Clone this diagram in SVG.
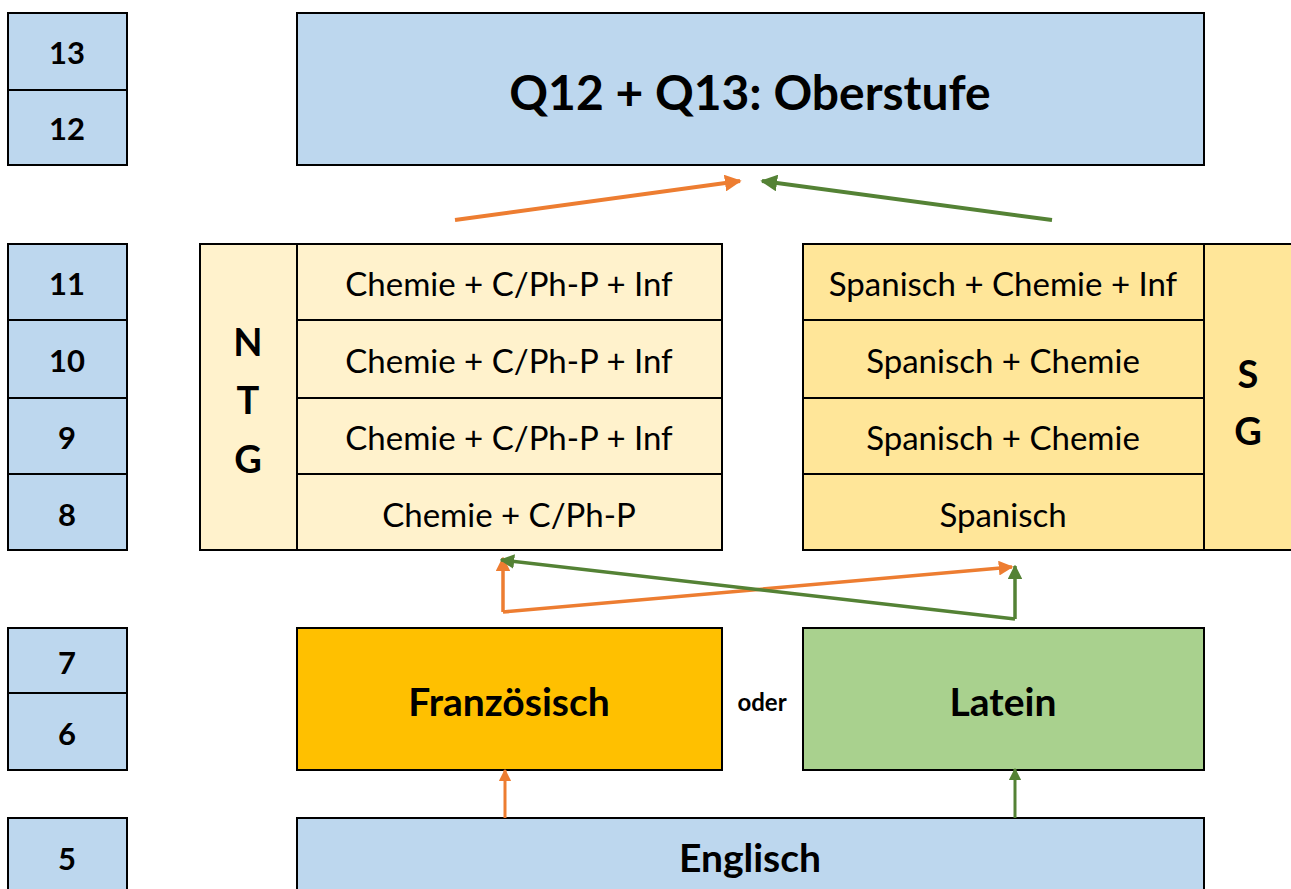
<svg xmlns="http://www.w3.org/2000/svg" width="1291" height="889" viewBox="0 0 1291 889">
  <defs>
    <style>
      .box { stroke: #000; stroke-width: 2; }
      .blue { fill: #BDD7EE; }
      .ntg { fill: #FFF2CC; }
      .sg { fill: #FFE699; }
      .fr { fill: #FFC000; }
      .la { fill: #A9D18E; }
      text { font-family: "Lato", "Open Sans", sans-serif; fill: #000; text-anchor: middle; dominant-baseline: central; }
      .num { font-size: 31px; font-weight: bold; }
      .big { font-size: 48px; font-weight: bold; }
      .mid { font-size: 39px; font-weight: bold; }
      .row { font-size: 33px; }
      .lbl { font-size: 38px; font-weight: bold; }
      .orange { stroke: #ED7D31; fill: none; }
      .green { stroke: #548235; fill: none; }
    </style>
    <marker id="ho" viewBox="0 0 10 10" refX="9" refY="5" markerWidth="4.2" markerHeight="4.2" markerUnits="strokeWidth" orient="auto">
      <path d="M0,0 L10,5 L0,10 Z" fill="#ED7D31"/>
    </marker>
    <marker id="hg" viewBox="0 0 10 10" refX="9" refY="5" markerWidth="4.2" markerHeight="4.2" markerUnits="strokeWidth" orient="auto">
      <path d="M0,0 L10,5 L0,10 Z" fill="#548235"/>
    </marker>
  </defs>

  <!-- grade column -->
  <g id="grades">
    <rect class="box blue" x="8" y="13" width="119" height="77"/>
    <text class="num" x="67" y="52">13</text>
    <rect class="box blue" x="8" y="90" width="119" height="75"/>
    <text class="num" x="67" y="128">12</text>
    <rect class="box blue" x="8" y="244" width="119" height="76"/>
    <text class="num" x="67" y="283">11</text>
    <rect class="box blue" x="8" y="320" width="119" height="78"/>
    <text class="num" x="67" y="360">10</text>
    <rect class="box blue" x="8" y="398" width="119" height="76"/>
    <text class="num" x="67" y="437">9</text>
    <rect class="box blue" x="8" y="474" width="119" height="76"/>
    <text class="num" x="67" y="514">8</text>
    <rect class="box blue" x="8" y="628" width="119" height="65"/>
    <text class="num" x="67" y="662">7</text>
    <rect class="box blue" x="8" y="693" width="119" height="77"/>
    <text class="num" x="67" y="733">6</text>
    <rect class="box blue" x="8" y="818" width="119" height="80"/>
    <text class="num" x="67" y="858">5</text>
  </g>

  <!-- upper school -->
  <g id="oberstufe">
    <rect class="box blue" x="297" y="13" width="907" height="152"/>
    <text class="big" x="750" y="91">Q12 + Q13: Oberstufe</text>
  </g>

  <!-- NTG branch -->
  <g id="ntg">
    <rect class="box ntg" x="200" y="244" width="97" height="306"/>
    <text class="lbl" x="248" y="341">N</text>
    <text class="lbl" x="248" y="399">T</text>
    <text class="lbl" x="248" y="458">G</text>
    <rect class="box ntg" x="297" y="244" width="425" height="76"/>
    <text class="row" x="509" y="283">Chemie + C/Ph-P + Inf</text>
    <rect class="box ntg" x="297" y="320" width="425" height="78"/>
    <text class="row" x="509" y="360">Chemie + C/Ph-P + Inf</text>
    <rect class="box ntg" x="297" y="398" width="425" height="76"/>
    <text class="row" x="509" y="437">Chemie + C/Ph-P + Inf</text>
    <rect class="box ntg" x="297" y="474" width="425" height="76"/>
    <text class="row" x="509" y="514">Chemie + C/Ph-P</text>
  </g>

  <!-- SG branch -->
  <g id="sg">
    <rect class="box sg" x="1204" y="244" width="100" height="306"/>
    <text class="lbl" x="1248" y="373">S</text>
    <text class="lbl" x="1248" y="430">G</text>
    <rect class="box sg" x="803" y="244" width="401" height="76"/>
    <text class="row" x="1003" y="283">Spanisch + Chemie + Inf</text>
    <rect class="box sg" x="803" y="320" width="401" height="78"/>
    <text class="row" x="1003" y="360">Spanisch + Chemie</text>
    <rect class="box sg" x="803" y="398" width="401" height="76"/>
    <text class="row" x="1003" y="437">Spanisch + Chemie</text>
    <rect class="box sg" x="803" y="474" width="401" height="76"/>
    <text class="row" x="1003" y="514">Spanisch</text>
  </g>

  <!-- second foreign language -->
  <g id="franzoesisch">
    <rect class="box fr" x="297" y="628" width="425" height="142"/>
    <text class="mid" x="509" y="701">Französisch</text>
  </g>
  <g id="oder">
    <text x="762" y="701" style="font-size:24px;font-weight:bold">oder</text>
  </g>
  <g id="latein">
    <rect class="box la" x="803" y="628" width="401" height="142"/>
    <text class="mid" x="1003" y="701">Latein</text>
  </g>

  <!-- first foreign language -->
  <g id="englisch">
    <rect class="box blue" x="297" y="818" width="907" height="80"/>
    <text class="mid" x="750" y="857">Englisch</text>
  </g>

  <!-- connectors -->
  <g id="connectors">
    <line class="orange" x1="455" y1="220" x2="740" y2="181" stroke-width="4" marker-end="url(#ho)"/>
    <line class="green" x1="1052" y1="220" x2="762" y2="181" stroke-width="4" marker-end="url(#hg)"/>

    <line class="orange" x1="503" y1="612" x2="503" y2="558" stroke-width="3.5" marker-end="url(#ho)"/>
    <line class="orange" x1="503" y1="612" x2="1012" y2="567" stroke-width="3.5" marker-end="url(#ho)"/>
    <line class="green" x1="1015" y1="619" x2="1015" y2="566" stroke-width="3.5" marker-end="url(#hg)"/>
    <line class="green" x1="1015" y1="619" x2="501" y2="560" stroke-width="3.5" marker-end="url(#hg)"/>

    <line class="orange" x1="505" y1="818" x2="505" y2="770" stroke-width="3" marker-end="url(#ho)"/>
    <line class="green" x1="1015" y1="818" x2="1015" y2="769" stroke-width="3" marker-end="url(#hg)"/>
  </g>
</svg>
